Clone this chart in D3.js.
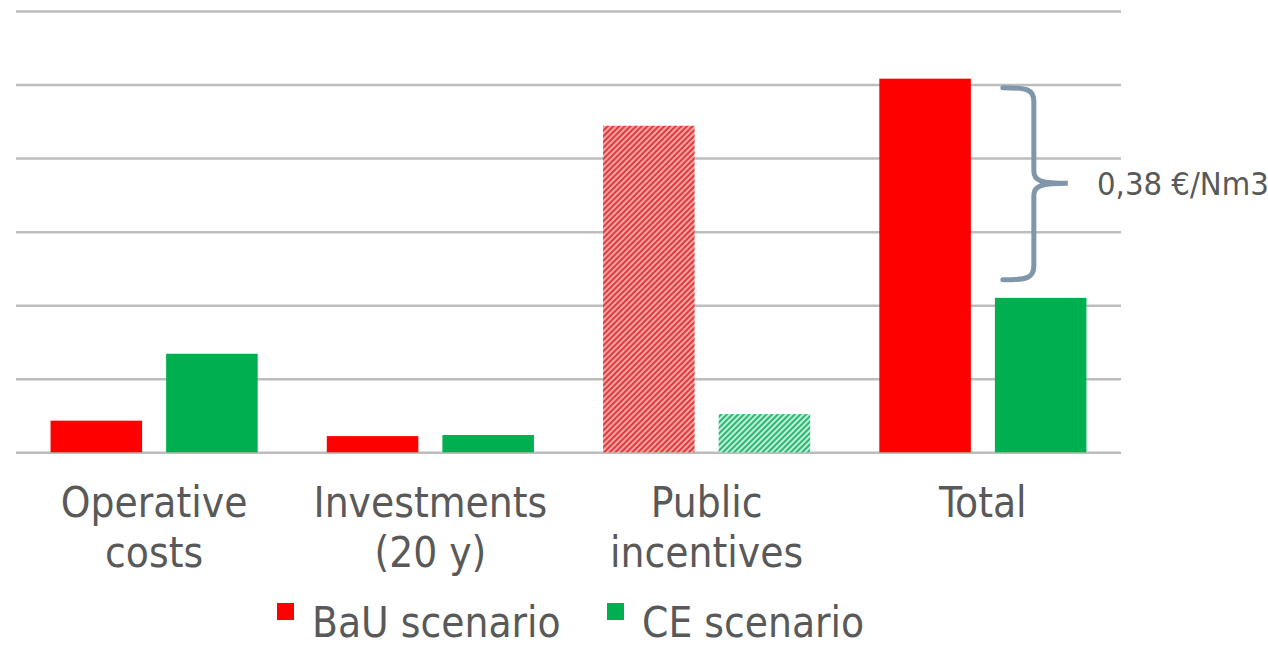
<!DOCTYPE html>
<html>
<head>
<meta charset="utf-8">
<script src="https://cdn.jsdelivr.net/npm/d3@7"></script>
<style>
  body { margin: 0; background: #fff; }
  svg { display: block; font-family: "DejaVu Sans Condensed", "DejaVu Sans", sans-serif; }
</style>
</head>
<body>
<svg width="1268" height="646"></svg>
<script>
var categories = [["Operative", "costs"], ["Investments", "(20 y)"], ["Public", "incentives"], ["Total"]]
var series = ["BaU scenario", "CE scenario"]
var bau = [0.043, 0.022, 0.444, 0.508]
var ce = [0.134, 0.0235, 0.052, 0.210]
var hatched = [false, false, true, false]
var yTicks = [0, 0.1, 0.2, 0.3, 0.4, 0.5, 0.6]
var gapLabel = "0,38 €/Nm3"

var colors = ["#ff0000", "#00b050"]

var svg = d3.select("svg")
var plotLeft = 16, plotRight = 1121, plotTop = 11, plotBottom = 452.3

var keys = categories.map(function(c, i){ return "c" + i })
var x0 = d3.scaleBand().domain(keys).range([plotLeft, plotRight]).paddingInner(0).paddingOuter(0)
var x1 = d3.scaleBand().domain(series).range([0, x0.bandwidth()]).paddingInner(0.208).paddingOuter(0.299)
var y = d3.scaleLinear().domain([0, 0.6]).range([plotBottom, plotTop])

// hatch patterns
var defs = svg.append("defs")
function hatch(id, bg, fg){
    var p = defs.append("pattern")
        .attr("id", id)
        .attr("patternUnits", "userSpaceOnUse")
        .attr("width", 4).attr("height", 4)
        .attr("patternTransform", "rotate(45)")
    p.append("rect").attr("width", 4).attr("height", 4).attr("fill", bg)
    p.append("rect").attr("width", 2).attr("height", 4).attr("fill", fg)
}
hatch("hatch0", "#ffa3a3", "#dc3c3c")
hatch("hatch1", "#bfeed6", "#2cb874")

// gridlines
svg.append("g")
    .attr("transform", "translate(" + plotLeft + ",0)")
    .call(d3.axisRight(y).tickValues(yTicks).tickSize(plotRight - plotLeft).tickFormat(""))
    .call(function(g){
        g.select(".domain").remove()
        g.selectAll(".tick line").attr("stroke", "#bdbdbd").attr("stroke-width", 2.5)
    })

var data = keys.map(function(k, i){
    return { key: k, i: i, values: [bau[i], ce[i]] }
})

var groups = svg.selectAll(".cat")
    .data(data)
    .enter()
    .append("g")
    .attr("class", "cat")
    .attr("transform", function(d){ return "translate(" + x0(d.key) + ",0)" })

groups.selectAll("rect")
    .data(function(d){
        return d.values.map(function(v, j){ return { s: series[j], j: j, v: v, h: hatched[d.i] } })
    })
    .enter()
    .append("rect")
    .attr("x", function(d){ return x1(d.s) })
    .attr("width", x1.bandwidth())
    .attr("y", function(d){ return y(d.v) })
    .attr("height", function(d){ return y(0) - y(d.v) })
    .attr("fill", function(d){ return d.h ? "url(#hatch" + d.j + ")" : colors[d.j] })

// category labels
groups.append("text")
    .attr("x", x0.bandwidth() / 2)
    .attr("y", 517)
    .attr("text-anchor", "middle")
    .attr("fill", "#595959")
    .attr("font-size", "42px")
    .selectAll("tspan")
    .data(function(d){ return categories[d.i] })
    .enter()
    .append("tspan")
    .attr("x", x0.bandwidth() / 2)
    .attr("dy", function(d, i){ return i == 0 ? 0 : 50 })
    .text(function(d){ return d })

// brace showing the gap between the two totals
var ox = x0("c3") + x1("BaU scenario") + x1.bandwidth()
var yTop = y(bau[3]) + 9, yBot = y(ce[3]) - 18, yMid = (yTop + yBot) / 2 - 0.5
var bs = ox + 32, bv = ox + 63, bt = ox + 97
var brace = d3.path()
brace.moveTo(bs, yTop)
brace.bezierCurveTo(bv - 6, yTop, bv, yTop + 2, bv, yTop + 14)
brace.lineTo(bv, yMid - 12)
brace.bezierCurveTo(bv, yMid - 2, bv + 8, yMid, bt, yMid)
brace.bezierCurveTo(bv + 8, yMid, bv, yMid + 2, bv, yMid + 12)
brace.lineTo(bv, yBot - 14)
brace.bezierCurveTo(bv, yBot - 2, bv - 6, yBot, bs, yBot)
svg.append("path")
    .attr("d", brace.toString())
    .attr("fill", "none")
    .attr("stroke", "#8096ab")
    .attr("stroke-width", 5)
    .attr("stroke-linecap", "round")

svg.append("text")
    .attr("x", 1097)
    .attr("y", yMid + 12)
    .attr("fill", "#595959")
    .attr("font-size", "32.5px")
    .text(gapLabel)

// legend
var legend = svg.append("g").attr("transform", "translate(0,637)")
var lx = [277, 607]
series.forEach(function(s, j){
    legend.append("rect")
        .attr("x", lx[j]).attr("y", -34)
        .attr("width", 17).attr("height", 17)
        .attr("fill", colors[j])
    legend.append("text")
        .attr("x", lx[j] + 35)
        .attr("y", 0)
        .attr("fill", "#595959")
        .attr("font-size", "42px")
        .text(s)
})
</script>
</body>
</html>
